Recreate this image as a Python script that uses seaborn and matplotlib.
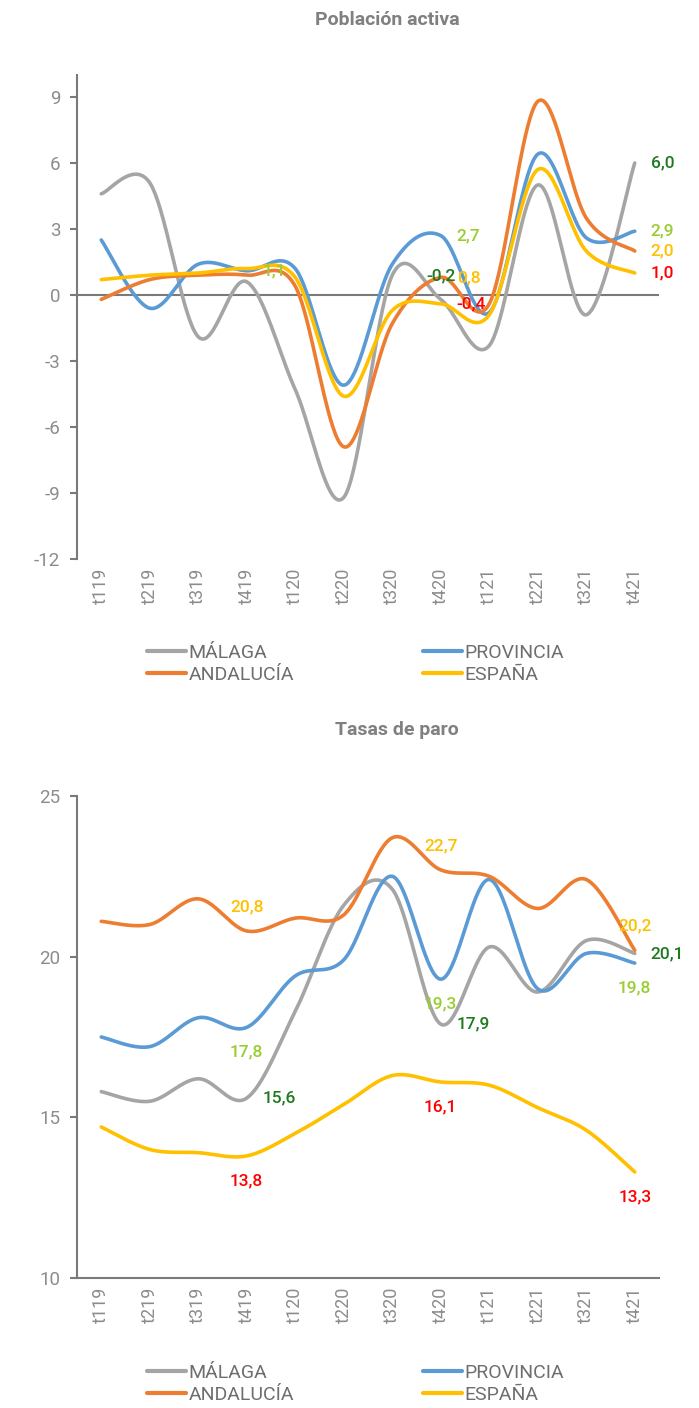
import numpy as np
import pandas as pd
import matplotlib
matplotlib.use("Agg")
import matplotlib.pyplot as plt
from matplotlib.lines import Line2D
import seaborn as sns

# ---------------- data ----------------
periods = ["t119", "t219", "t319", "t419", "t120", "t220",
           "t320", "t420", "t121", "t221", "t321", "t421"]
series_names = ["MÁLAGA", "PROVINCIA", "ANDALUCÍA", "ESPAÑA"]

# Población activa (variación interanual, %)
pa_malaga = [4.6, 5.1, -1.9, 0.6, -4.3, -9.2, 0.9, -0.2, -2.3, 5.0, -0.9, 6.0]
pa_provincia = [2.5, -0.6, 1.4, 1.1, 1.2, -4.1, 1.4, 2.7, -0.8, 6.4, 2.6, 2.9]
pa_andalucia = [-0.2, 0.7, 0.9, 0.9, 0.4, -6.9, -1.3, 0.8, -0.4, 8.8, 3.5, 2.0]
pa_espana = [0.7, 0.9, 1.0, 1.2, 0.8, -4.6, -0.7, -0.4, -0.9, 5.7, 2.0, 1.0]

# Tasas de paro (%)
tp_malaga = [15.8, 15.5, 16.2, 15.6, 18.3, 21.6, 22.1, 17.9, 20.3, 18.9, 20.5, 20.1]
tp_provincia = [17.5, 17.2, 18.1, 17.8, 19.4, 19.9, 22.5, 19.3, 22.4, 19.0, 20.1, 19.8]
tp_andalucia = [21.1, 21.0, 21.8, 20.8, 21.2, 21.3, 23.7, 22.7, 22.5, 21.5, 22.4, 20.2]
tp_espana = [14.7, 14.0, 13.9, 13.8, 14.5, 15.4, 16.3, 16.1, 16.0, 15.3, 14.6, 13.3]

# data labels: (series, period index, position)
pa_labels = [("PROVINCIA", 3, "right"),
             ("MÁLAGA", 7, "above"), ("PROVINCIA", 7, "right"),
             ("ANDALUCÍA", 7, "right"), ("ESPAÑA", 7, "right"),
             ("MÁLAGA", 11, "right"), ("PROVINCIA", 11, "right"),
             ("ANDALUCÍA", 11, "right"), ("ESPAÑA", 11, "right")]
tp_labels = [("ANDALUCÍA", 3, "above"), ("PROVINCIA", 3, "below"),
             ("MÁLAGA", 3, "right"), ("ESPAÑA", 3, "below"),
             ("ANDALUCÍA", 7, "above"), ("PROVINCIA", 7, "below"),
             ("MÁLAGA", 7, "right"), ("ESPAÑA", 7, "below"),
             ("ANDALUCÍA", 11, "above"), ("MÁLAGA", 11, "right"),
             ("PROVINCIA", 11, "below"), ("ESPAÑA", 11, "below")]

# ---------------- styles ----------------
line_colors = {"MÁLAGA": "#A5A5A5", "PROVINCIA": "#5B9BD5",
               "ANDALUCÍA": "#ED7D31", "ESPAÑA": "#FFC000"}
label_colors = {"MÁLAGA": "#1E7A1E", "PROVINCIA": "#9ACD32",
                "ANDALUCÍA": "#FFC000", "ESPAÑA": "#FF0000"}
GRAY = "#808080"
TICKGRAY = "#8c8c8c"
AXGRAY = "#7a7a7a"

sns.set_theme(style="white")
plt.rcParams["font.family"] = ["Roboto", "DejaVu Sans"]

W, H = 699, 1408
fig = plt.figure(figsize=(W / 100, H / 100), dpi=100)


def smooth_curve(vals, n=40):
    """Excel-like smoothed line (Catmull-Rom as cubic Bezier)."""
    P = np.column_stack([np.arange(len(vals), dtype=float), np.asarray(vals, float)])
    pts = []
    for i in range(len(P) - 1):
        p0 = P[i - 1] if i > 0 else P[i]
        p1, p2 = P[i], P[i + 1]
        p3 = P[i + 2] if i + 2 < len(P) else P[i + 1]
        c1 = p1 + (p2 - p0) / 6.0
        c2 = p2 - (p3 - p1) / 6.0
        t = np.linspace(0, 1, n, endpoint=(i == len(P) - 2))[:, None]
        seg = ((1 - t) ** 3) * p1 + 3 * ((1 - t) ** 2) * t * c1 \
            + 3 * (1 - t) * (t ** 2) * c2 + (t ** 3) * p2
        pts.append(seg)
    return np.vstack(pts)


def build_df(data):
    rows = []
    for name in series_names:
        c = smooth_curve(data[name])
        rows.append(pd.DataFrame({"x": c[:, 0], "y": c[:, 1], "serie": name,
                                  "order": np.arange(len(c))}))
    return pd.concat(rows, ignore_index=True)


def fmt(v):
    return f"{v:.1f}".replace(".", ",")


def draw_panel(ax, data, labels, ylim, yticks, bottom_spine, zero_line):
    df = build_df(data)
    sns.lineplot(data=df, x="x", y="y", hue="serie", hue_order=series_names,
                 palette=line_colors, sort=False, estimator=None,
                 linewidth=2.6, legend=False, ax=ax, zorder=3)
    ax.set_xlim(-0.5, len(periods) - 0.5)
    ax.set_ylim(*ylim)
    ax.set_xticks(range(len(periods)))
    ax.set_xticklabels(periods, rotation=90, fontsize=13, color=TICKGRAY,
                       fontweight="normal")
    ax.set_yticks(yticks)
    ax.set_yticklabels([str(t) for t in yticks], fontsize=13.5, color=TICKGRAY,
                       fontweight="normal")
    ax.set_xlabel("")
    ax.set_ylabel("")
    ax.tick_params(axis="x", length=0, pad=6)
    ax.tick_params(axis="y", length=5, width=1.5, color=AXGRAY, pad=7,
                   direction="out", left=True)
    for s in ["top", "right"]:
        ax.spines[s].set_visible(False)
    ax.spines["left"].set_color(AXGRAY)
    ax.spines["left"].set_linewidth(1.5)
    if bottom_spine:
        ax.spines["bottom"].set_color(AXGRAY)
        ax.spines["bottom"].set_linewidth(1.5)
    else:
        ax.spines["bottom"].set_visible(False)
    if zero_line:
        ax.axhline(0, color=AXGRAY, linewidth=1.5, zorder=2)
    ax.grid(False)
    ax.set_facecolor("white")

    for name, idx, pos in labels:
        v = data[name][idx]
        if pos == "right":
            off, ha, va = (16, 0), "left", "center"
        elif pos == "above":
            off, ha, va = (0, 24), "center", "center"
        else:
            off, ha, va = (0, -25), "center", "center"
        ax.annotate(fmt(v), xy=(idx, v), xytext=off, textcoords="offset pixels",
                    ha=ha, va=va, fontsize=12.5, color=label_colors[name],
                    fontweight="medium", zorder=5)


def add_legend(ycenter):
    handles = [Line2D([0], [0], color=line_colors[n], lw=3) for n in series_names]
    order = [0, 2, 1, 3]  # rows: MÁLAGA/PROVINCIA, ANDALUCÍA/ESPAÑA
    leg = fig.legend([handles[i] for i in order], [series_names[i] for i in order],
                     ncol=2, loc="center left",
                     bbox_to_anchor=(147 / W, 1 - ycenter / H),
                     frameon=False, fontsize=14, handlelength=2.0,
                     handletextpad=0.15, columnspacing=6.6, labelspacing=0.22,
                     borderpad=0, borderaxespad=0)
    for t in leg.get_texts():
        t.set_color("#6e6e6e")


left = 77 / W
width = (659 - 77) / W

# Top panel: Población activa (y=10 at 75px, y=-12 at 559px)
ax1 = fig.add_axes([left, 1 - 559 / H, width, (559 - 75) / H])
pa_data = {"MÁLAGA": pa_malaga, "PROVINCIA": pa_provincia,
           "ANDALUCÍA": pa_andalucia, "ESPAÑA": pa_espana}
draw_panel(ax1, pa_data, pa_labels, (-12, 10), [-12, -9, -6, -3, 0, 3, 6, 9],
           bottom_spine=False, zero_line=True)

# Bottom panel: Tasas de paro (y=25 at 796px, y=10 at 1278px)
ax2 = fig.add_axes([left, 1 - 1278 / H, width, (1278 - 796) / H])
tp_data = {"MÁLAGA": tp_malaga, "PROVINCIA": tp_provincia,
           "ANDALUCÍA": tp_andalucia, "ESPAÑA": tp_espana}
draw_panel(ax2, tp_data, tp_labels, (10, 25), [10, 15, 20, 25],
           bottom_spine=True, zero_line=False)

fig.text(387 / W, 1 - 20 / H, "Población activa", ha="center", va="center",
         fontsize=14, fontweight="bold", color=GRAY)
fig.text(397 / W, 1 - 730 / H, "Tasas de paro", ha="center", va="center",
         fontsize=14, fontweight="bold", color=GRAY)

add_legend(664)
add_legend(1384)

fig.savefig("out.png", dpi=100, facecolor="white")
